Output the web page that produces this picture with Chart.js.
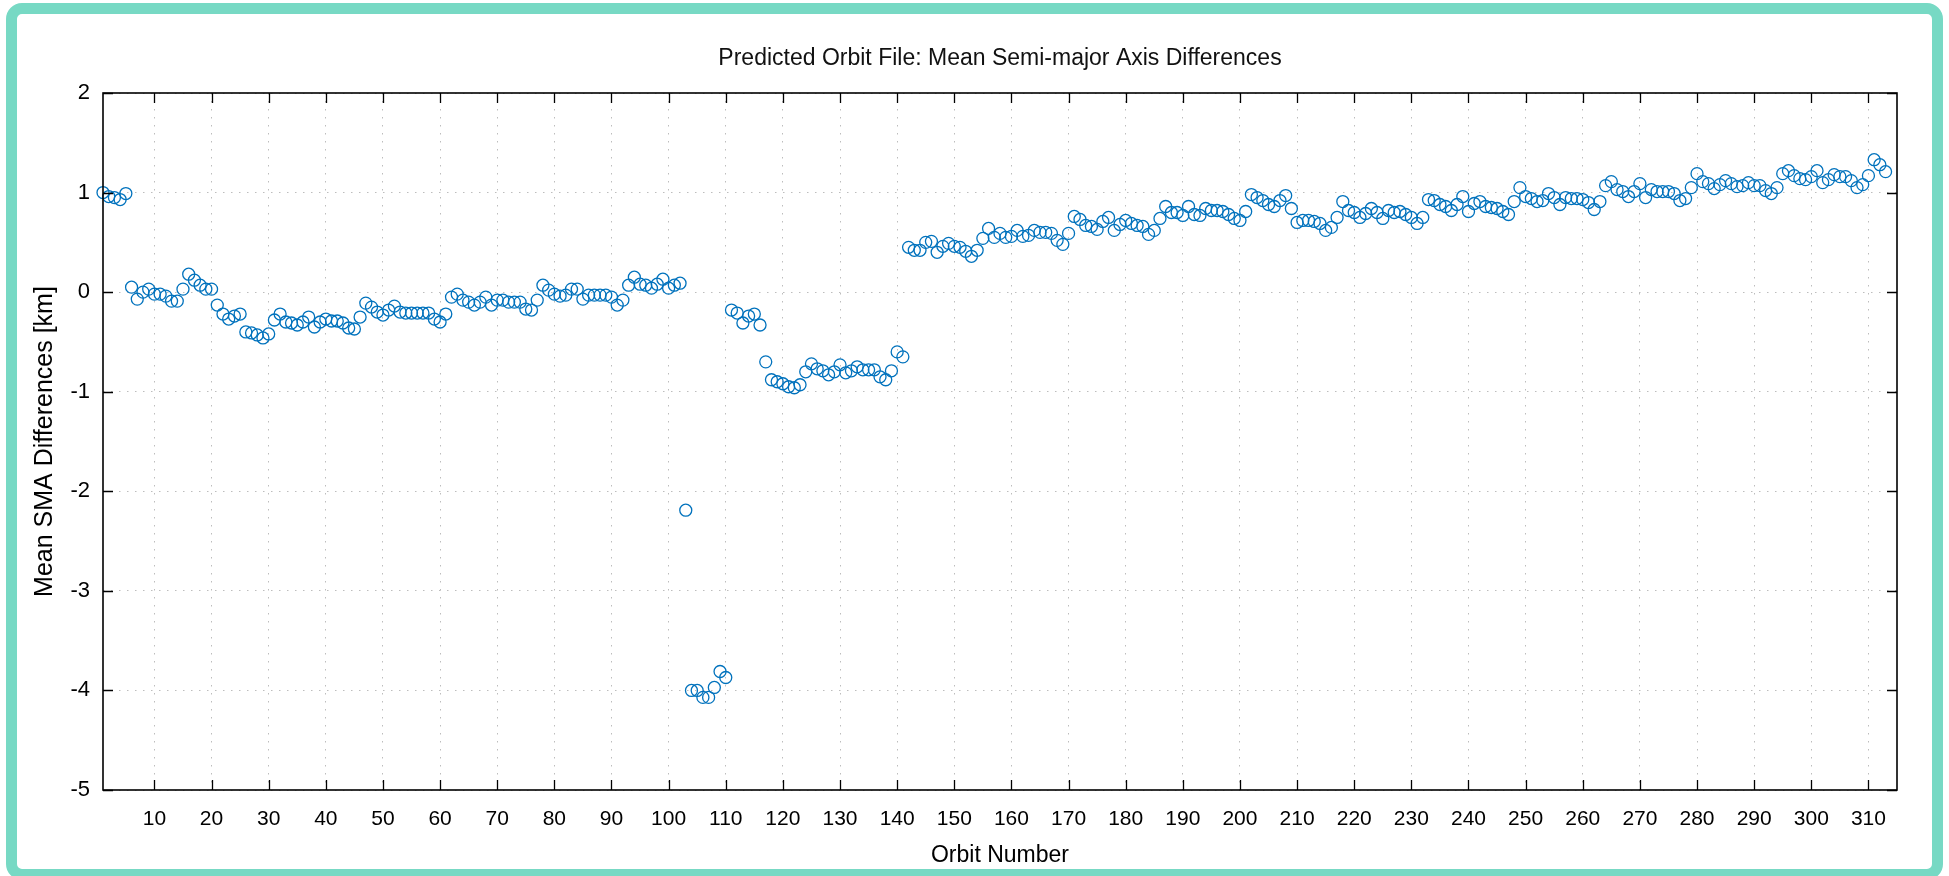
<!DOCTYPE html>
<html>
<head>
<meta charset="utf-8">
<script src="https://cdn.jsdelivr.net/npm/chart.js@4/dist/chart.umd.min.js"></script>
<style>
    html, body { margin: 0; padding: 0; background: #fff; overflow: hidden; }
    #wrap { position: relative; width: 1949px; height: 876px; }
    #frame {
        position: absolute; left: 6px; top: 3px; width: 1937px; height: 877px;
        box-sizing: border-box; border: 11px solid #77d9c4; border-radius: 16px;
        pointer-events: none;
    }
</style>
</head>
<body>
<div id="wrap">
    <canvas id="chart" width="1949" height="876"></canvas>
    <div id="frame"></div>
</div>
<script>
// orbit numbers start here, one value per orbit
const firstOrbit = 1;

// mean SMA differences [km]
const smaDiff = [
    1.00, 0.96, 0.95, 0.93, 0.99, 0.05, -0.07, 0.00, 0.03, -0.02,       // 1-10
    -0.02, -0.04, -0.09, -0.09, 0.03, 0.18, 0.12, 0.07, 0.03, 0.03,     // 11-20
    -0.13, -0.22, -0.27, -0.24, -0.22, -0.40, -0.41, -0.43, -0.46, -0.42, // 21-30
    -0.28, -0.22, -0.30, -0.31, -0.33, -0.30, -0.25, -0.35, -0.30, -0.27, // 31-40
    -0.29, -0.29, -0.31, -0.36, -0.37, -0.25, -0.11, -0.15, -0.20, -0.23, // 41-50
    -0.18, -0.14, -0.20, -0.21, -0.21, -0.21, -0.21, -0.21, -0.27, -0.30, // 51-60
    -0.22, -0.05, -0.02, -0.08, -0.10, -0.13, -0.10, -0.05, -0.13, -0.08, // 61-70
    -0.08, -0.10, -0.10, -0.10, -0.17, -0.18, -0.08, 0.07, 0.02, -0.02,  // 71-80
    -0.04, -0.03, 0.03, 0.03, -0.07, -0.03, -0.03, -0.03, -0.03, -0.05,  // 81-90
    -0.13, -0.08, 0.07, 0.15, 0.08, 0.07, 0.04, 0.08, 0.13, 0.04,        // 91-100
    0.07, 0.09, -2.19, -4.00, -4.00, -4.07, -4.07, -3.97, -3.81, -3.87,  // 101-110
    -0.18, -0.21, -0.31, -0.24, -0.22, -0.33, -0.70, -0.88, -0.90, -0.92, // 111-120
    -0.95, -0.96, -0.93, -0.80, -0.72, -0.77, -0.79, -0.83, -0.80, -0.73, // 121-130
    -0.81, -0.79, -0.75, -0.78, -0.78, -0.78, -0.85, -0.88, -0.79, -0.60, // 131-140
    -0.65, 0.45, 0.42, 0.42, 0.50, 0.51, 0.40, 0.46, 0.49, 0.46,         // 141-150
    0.45, 0.41, 0.36, 0.42, 0.54, 0.64, 0.55, 0.59, 0.55, 0.56,          // 151-160
    0.62, 0.56, 0.57, 0.62, 0.60, 0.60, 0.59, 0.52, 0.48, 0.59,          // 161-170
    0.76, 0.73, 0.67, 0.66, 0.63, 0.71, 0.75, 0.62, 0.68, 0.72,          // 171-180
    0.69, 0.67, 0.66, 0.58, 0.62, 0.74, 0.86, 0.80, 0.80, 0.77,          // 181-190
    0.86, 0.78, 0.77, 0.84, 0.82, 0.82, 0.81, 0.78, 0.74, 0.72,          // 191-200
    0.81, 0.98, 0.95, 0.92, 0.88, 0.86, 0.92, 0.97, 0.84, 0.70,          // 201-210
    0.72, 0.72, 0.71, 0.69, 0.62, 0.65, 0.75, 0.91, 0.82, 0.80,          // 211-220
    0.75, 0.79, 0.84, 0.80, 0.74, 0.82, 0.80, 0.81, 0.78, 0.75,          // 221-230
    0.69, 0.75, 0.93, 0.92, 0.88, 0.86, 0.82, 0.88, 0.96, 0.81,          // 231-240
    0.89, 0.91, 0.86, 0.85, 0.84, 0.81, 0.78, 0.91, 1.05, 0.96,          // 241-250
    0.94, 0.91, 0.92, 0.99, 0.95, 0.88, 0.95, 0.94, 0.94, 0.93,          // 251-260
    0.90, 0.83, 0.91, 1.07, 1.11, 1.03, 1.01, 0.96, 1.01, 1.09,          // 261-270
    0.95, 1.03, 1.01, 1.01, 1.01, 0.99, 0.92, 0.94, 1.05, 1.19,          // 271-280
    1.11, 1.09, 1.04, 1.08, 1.12, 1.09, 1.06, 1.07, 1.10, 1.07,          // 281-290
    1.07, 1.02, 0.99, 1.05, 1.19, 1.22, 1.17, 1.14, 1.13, 1.16,          // 291-300
    1.22, 1.10, 1.13, 1.18, 1.16, 1.16, 1.12, 1.05, 1.08, 1.17,          // 301-310
    1.33, 1.28, 1.21                                                     // 311-313
];

// axis ticks
const xTickValues = [10, 20, 30, 40, 50, 60, 70, 80, 90, 100, 110, 120, 130, 140, 150, 160,
    170, 180, 190, 200, 210, 220, 230, 240, 250, 260, 270, 280, 290, 300, 310];
const yTickValues = [-5, -4, -3, -2, -1, 0, 1, 2];

const xRange = [1, 315];
const yRange = [-5, 2];

const points = smaDiff.map((v, i) => ({ x: firstOrbit + i, y: v }));

Chart.defaults.font.family = '"Liberation Sans", Arial, Helvetica, sans-serif';
Chart.defaults.color = '#000';

// box around the plot + inward tick marks on all four sides
const plotBox = {
    id: 'plot_box',
    afterDraw: (chart) => {
        const { ctx, chartArea: a, scales } = chart;
        const len = 10;
        ctx.save();
        ctx.strokeStyle = '#000';
        ctx.lineWidth = 1.3;
        ctx.beginPath();
        scales.x.ticks.forEach(t => {
            const px = Math.round(scales.x.getPixelForValue(t.value)) + 0.5;
            ctx.moveTo(px, a.bottom); ctx.lineTo(px, a.bottom - len);
            ctx.moveTo(px, a.top); ctx.lineTo(px, a.top + len);
        });
        scales.y.ticks.forEach(t => {
            const py = Math.round(scales.y.getPixelForValue(t.value)) + 0.5;
            ctx.moveTo(a.left, py); ctx.lineTo(a.left + len, py);
            ctx.moveTo(a.right, py); ctx.lineTo(a.right - len, py);
        });
        ctx.stroke();
        ctx.lineWidth = 1.6;
        ctx.strokeRect(a.left, a.top, a.right - a.left, a.bottom - a.top);
        ctx.restore();
    }
};

new Chart(document.getElementById('chart'), {
    type: 'scatter',
    data: {
        datasets: [{
            data: points,
            showLine: false,
            pointStyle: 'circle',
            pointRadius: 6,
            pointHoverRadius: 6,
            pointBorderWidth: 1.3,
            pointBackgroundColor: 'rgba(0,0,0,0)',
            pointBorderColor: '#0072bd',
            clip: false
        }]
    },
    options: {
        responsive: false,
        animation: false,
        events: [],
        layout: { padding: { left: 0, right: 52, top: 0, bottom: 0 } },
        plugins: {
            legend: { display: false },
            tooltip: { enabled: false },
            title: {
                display: true,
                fullSize: false,
                text: 'Predicted Orbit File: Mean Semi-major Axis Differences',
                font: { size: 23, weight: 'normal' },
                color: '#111',
                padding: { top: 45, bottom: 20.4 }
            }
        },
        scales: {
            x: {
                type: 'linear',
                min: xRange[0],
                max: xRange[1],
                afterBuildTicks: (s) => { s.ticks = xTickValues.map(v => ({ value: v })); },
                afterFit: (s) => { s.height = 86; },
                ticks: { font: { size: 21 }, padding: 17, maxRotation: 0, autoSkip: false },
                grid: { color: '#bdbdbd', lineWidth: 1, drawTicks: false },
                border: { display: false, dash: [1.5, 6.5] },
                title: {
                    display: true,
                    text: 'Orbit Number',
                    font: { size: 23 },
                    padding: { top: 0, bottom: 7 }
                }
            },
            y: {
                type: 'linear',
                min: yRange[0],
                max: yRange[1],
                afterBuildTicks: (s) => { s.ticks = yTickValues.map(v => ({ value: v })); },
                afterFit: (s) => { s.width = 103; },
                ticks: { font: { size: 22 }, padding: 13 },
                grid: { color: '#bdbdbd', lineWidth: 1, drawTicks: false },
                border: { display: false, dash: [1.5, 6.5] },
                title: {
                    display: true,
                    text: 'Mean SMA Differences [km]',
                    font: { size: 25 },
                    padding: { top: 30, bottom: 0 }
                }
            }
        }
    },
    plugins: [plotBox]
});
</script>
</body>
</html>
